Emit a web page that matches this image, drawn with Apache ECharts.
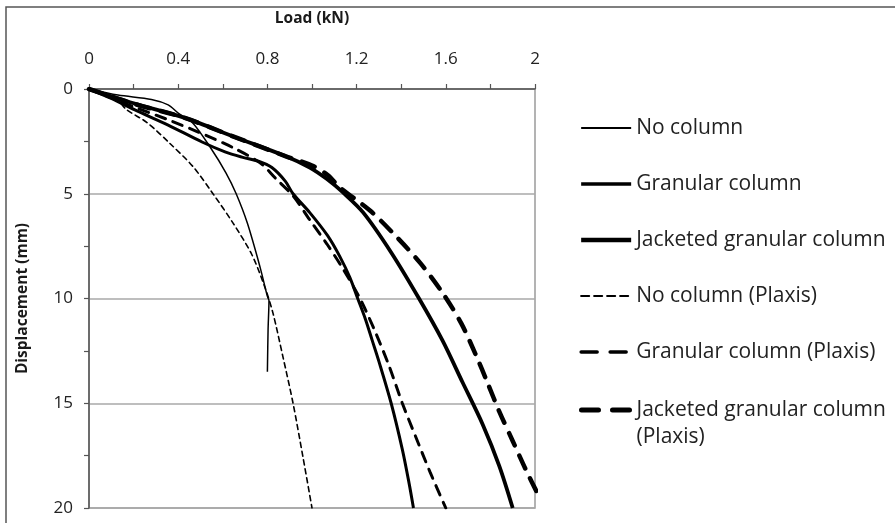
<!DOCTYPE html>
<html>
<head>
<meta charset="utf-8">
<script src="https://cdn.jsdelivr.net/npm/echarts@6/dist/echarts.min.js"></script>
<style>
html,body{margin:0;padding:0;background:#fff;}
#chart{width:895px;height:523px;}
</style>
</head>
<body>
<div id="chart"></div>
<script>
// Load (kN) / Displacement (mm) pairs
const noColLoad = [0, 0.13, 0.28, 0.355, 0.40, 0.466, 0.543, 0.614, 0.66, 0.71, 0.767, 0.80, 0.807, 0.803, 0.80];
const noColDisp = [0, 0.29, 0.50, 0.76, 1.15, 1.63, 2.77, 4.0, 5.0, 6.4, 8.5, 9.9, 10.1, 11.5, 13.5];

const granLoad = [0, 0.1, 0.206, 0.355, 0.507, 0.61, 0.686, 0.76, 0.82, 0.88, 0.915, 0.99, 1.07, 1.125, 1.17, 1.205, 1.24, 1.27, 1.30, 1.355, 1.405, 1.435, 1.455];
const granDisp = [0, 0.45, 1.0, 1.72, 2.53, 3.0, 3.25, 3.45, 3.75, 4.4, 5.0, 5.9, 7.0, 8.0, 9.0, 10.0, 11.0, 12.0, 13.0, 15.0, 17.2, 18.8, 20];

const jackLoad = [0, 0.2, 0.43, 0.655, 0.88, 0.99, 1.067, 1.14, 1.23, 1.355, 1.48, 1.585, 1.675, 1.765, 1.84, 1.9];
const jackDisp = [0, 0.68, 1.38, 2.3, 3.2, 3.75, 4.3, 4.95, 5.9, 7.8, 10.0, 12.0, 14.0, 16.0, 18.0, 20];

const noColPlxLoad = [0, 0.125, 0.17, 0.26, 0.363, 0.466, 0.556, 0.646, 0.73, 0.79, 0.825, 0.87, 0.915, 0.96, 1.0];
const noColPlxDisp = [0, 0.52, 1.0, 1.6, 2.6, 3.7, 5.0, 6.4, 7.9, 9.5, 10.7, 12.8, 15.0, 17.6, 20];

const granPlxLoad = [0, 0.2, 0.35, 0.5, 0.646, 0.77, 0.84, 0.915, 0.99, 1.067, 1.14, 1.215, 1.28, 1.345, 1.405, 1.465, 1.53, 1.6];
const granPlxDisp = [0, 0.85, 1.45, 2.1, 2.8, 3.55, 4.3, 5.1, 6.25, 7.4, 8.6, 10.0, 11.5, 13.2, 15.0, 16.6, 18.3, 20];

const jackPlxLoad = [0, 0.2, 0.43, 0.655, 0.88, 1.0, 1.07, 1.125, 1.26, 1.365, 1.485, 1.59, 1.67, 1.735, 1.79, 1.84, 1.9, 1.96, 2.03];
const jackPlxDisp = [0, 0.7, 1.38, 2.3, 3.2, 3.65, 4.1, 4.7, 5.8, 6.9, 8.3, 9.8, 11.2, 12.7, 14.1, 15.4, 16.8, 18.2, 19.7];

const seriesNames = ['No column', 'Granular column', 'Jacketed granular column',
  'No column (Plaxis)', 'Granular column (Plaxis)', 'Jacketed granular column\n(Plaxis)'];

const xTicks = {min: 0, max: 2, step: 0.4};
const yTicks = {min: 0, max: 20, step: 5};

function pairs(xs, ys) { return xs.map((x, i) => [x, ys[i]]); }

const FONT = '"Open Sans"';
const chart = echarts.init(document.getElementById('chart'));

// line styles per series: [width, dash in plot, dash in legend]
const styles = [
  [1.5, null, null],
  [3, null, null],
  [3.8, null, null],
  [1.6, [5, 4], [8, 5]],
  [3, [10, 8], [16, 13]],
  [4.5, [14, 11], [17, 14]]
];

function line(i, xs, ys) {
  const s = styles[i];
  return {
    name: seriesNames[i], type: 'line', data: pairs(xs, ys), symbol: 'none', smooth: 0.3,
    clip: true,
    lineStyle: {color: '#000', width: s[0], type: s[1] || 'solid', cap: s[1] ? 'round' : 'butt'},
    itemStyle: {color: '#000'},
    z: 3
  };
}

function legendItem(i) {
  const s = styles[i];
  return {name: seriesNames[i], lineStyle: {color: '#000', width: s[0] + 0.5, type: s[2] || 'solid'}};
}

const legendCommon = {
  orient: 'vertical', left: 579, padding: 0,
  itemWidth: 50, itemHeight: 14,
  itemStyle: {opacity: 0},
  textStyle: {fontFamily: FONT, fontSize: 21, color: '#222', lineHeight: 27}
};

chart.setOption({
  animation: false,
  backgroundColor: '#fff',
  graphic: [{
    type: 'rect', shape: {x: 6, y: 7, width: 960, height: 600},
    style: {fill: 'none', stroke: '#555', lineWidth: 1.5}, silent: true, z: -1
  }],
  grid: {left: 89, top: 89, width: 446, height: 419, show: true, borderColor: '#9a9a9a', borderWidth: 1.5, backgroundColor: 'transparent'},
  xAxis: {
    type: 'value', position: 'top', min: xTicks.min, max: xTicks.max, interval: xTicks.step,
    name: 'Load (kN)', nameLocation: 'middle', nameGap: 62,
    nameTextStyle: {fontFamily: FONT, fontSize: 15.5, fontWeight: 'bold', color: '#1a1a1a'},
    axisLine: {show: true, lineStyle: {color: '#555', width: 1.5}},
    axisTick: {show: true, length: 5, lineStyle: {color: '#555', width: 1.2}},
    minorTick: {show: true, splitNumber: 2, length: 5, lineStyle: {color: '#555', width: 1.2}},
    axisLabel: {fontFamily: FONT, fontSize: 17, color: '#222', margin: 21},
    splitLine: {show: false}
  },
  yAxis: {
    type: 'value', inverse: true, min: yTicks.min, max: yTicks.max, interval: yTicks.step,
    name: 'Displacement (mm)', nameLocation: 'middle', nameGap: 58,
    nameTextStyle: {fontFamily: FONT, fontSize: 15.5, fontWeight: 'bold', color: '#1a1a1a'},
    axisLine: {show: true, lineStyle: {color: '#555', width: 1.5}},
    axisTick: {show: true, length: 5, lineStyle: {color: '#555', width: 1.2}},
    minorTick: {show: true, splitNumber: 2, length: 5, lineStyle: {color: '#555', width: 1.2}},
    axisLabel: {fontFamily: FONT, fontSize: 17, color: '#222', margin: 16},
    splitLine: {show: true, lineStyle: {color: '#a8a8a8', width: 1.5}}
  },
  legend: [
    Object.assign({}, legendCommon, {top: 114.5, itemGap: 29, data: [0, 1, 2, 3, 4].map(legendItem)}),
    Object.assign({}, legendCommon, {
      top: 369.5, data: [legendItem(5)],
      formatter: function (name) { return '\n' + name; }
    })
  ],
  series: [
    line(0, noColLoad, noColDisp),
    line(1, granLoad, granDisp),
    line(2, jackLoad, jackDisp),
    line(3, noColPlxLoad, noColPlxDisp),
    line(4, granPlxLoad, granPlxDisp),
    line(5, jackPlxLoad, jackPlxDisp)
  ]
});
</script>
</body>
</html>
